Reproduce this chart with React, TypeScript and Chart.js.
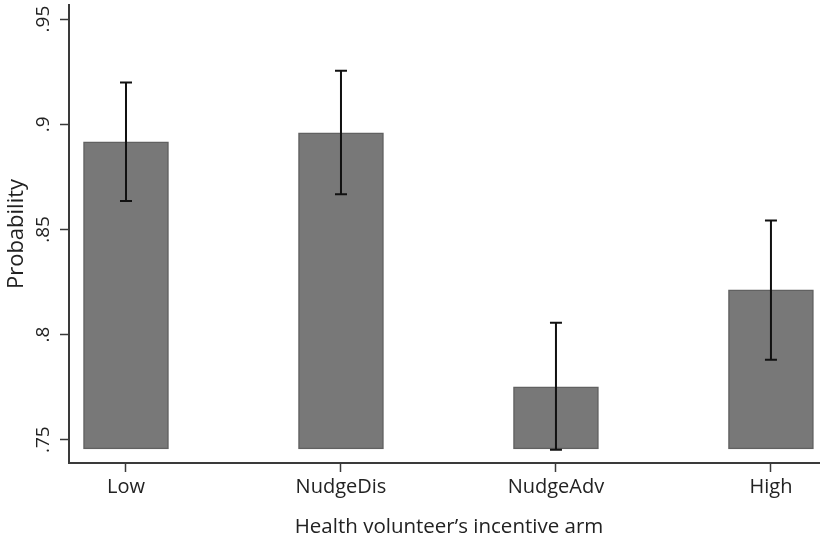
import React, { useEffect, useRef } from "react";
import { Chart, registerables } from "chart.js";

Chart.register(...registerables);

const categories = ["Low", "NudgeDis", "NudgeAdv", "High"];
const probability = [0.8916, 0.8959, 0.7751, 0.8213];
const ciLow = [0.8635, 0.8667, 0.7452, 0.788];
const ciHigh = [0.9199, 0.9254, 0.8056, 0.8542];
const barBase = 0.7456;
const yTicks = [0.75, 0.8, 0.85, 0.9, 0.95];
const yTickLabels = [".75", ".8", ".85", ".9", ".95"];

const FONT = "'Open Sans', 'Noto Sans', sans-serif";

const errorBarPlugin = {
  id: "errorBars",
  afterDatasetsDraw(chart: any) {
    const meta = chart.getDatasetMeta(0);
    const y = chart.scales.y;
    const ctx = chart.ctx;
    ctx.save();
    ctx.strokeStyle = "#111111";
    ctx.lineWidth = 2;
    meta.data.forEach((bar: any, i: number) => {
      const x = bar.x;
      const yl = y.getPixelForValue(ciLow[i]);
      const yh = y.getPixelForValue(ciHigh[i]);
      ctx.beginPath();
      ctx.moveTo(x, yl);
      ctx.lineTo(x, yh);
      ctx.moveTo(x - 6, yl);
      ctx.lineTo(x + 6, yl);
      ctx.moveTo(x - 6, yh);
      ctx.lineTo(x + 6, yh);
      ctx.stroke();
    });
    ctx.restore();
  },
};

const yLabelPlugin = {
  id: "yLabels",
  afterDraw(chart: any) {
    const y = chart.scales.y;
    const ctx = chart.ctx;
    ctx.save();
    ctx.fillStyle = "#222222";
    ctx.font = `19px ${FONT}`;
    ctx.textAlign = "center";
    ctx.textBaseline = "middle";
    yTicks.forEach((v, i) => {
      const py = y.getPixelForValue(v);
      ctx.save();
      ctx.translate(44, py);
      ctx.rotate(-Math.PI / 2);
      ctx.fillText(yTickLabels[i], 0, 0);
      ctx.restore();
    });
    ctx.restore();
  },
};

export default function App() {
  const ref = useRef<HTMLCanvasElement | null>(null);

  useEffect(() => {
    document.body.style.margin = "0";
    const canvas = ref.current!;
    const chart = new Chart(canvas, {
      type: "bar",
      data: {
        datasets: [
          {
            data: categories.map((_, i) => ({ x: i, y: [barBase, probability[i]] })) as any,
            backgroundColor: "#787878",
            borderColor: "#616161",
            borderWidth: 1.5,
            borderSkipped: false,
            barThickness: 85,
          },
        ],
      },
      options: {
        animation: false,
        responsive: false,
        layout: { padding: { top: 5, right: 1, left: 0, bottom: 0 } },
        plugins: { legend: { display: false }, tooltip: { enabled: false } },
        scales: {
          x: {
            type: "linear",
            min: -0.2651,
            max: 3.27,
            offset: false,
            afterBuildTicks: (s: any) => {
              s.ticks = categories.map((_, i) => ({ value: i }));
            },
            afterFit: (s: any) => {
              s.height = 77;
            },
            ticks: {
              callback: (v: any) => categories[v as number] ?? "",
              color: "#222222",
              font: { family: FONT, size: 20 },
              padding: 3,
              maxRotation: 0,
              autoSkip: false,
            },
            grid: {
              offset: false,
              drawOnChartArea: false,
              drawTicks: true,
              tickLength: 9,
              tickColor: "#3a3a3a",
              tickWidth: 1.5,
            },
            border: { display: true, color: "#3a3a3a", width: 2 },
            title: {
              display: true,
              text: "Health volunteer\u2019s incentive arm",
              color: "#222222",
              font: { family: FONT, size: 20.5 },
              padding: { top: 0, bottom: 1 },
            },
          },
          y: {
            type: "linear",
            min: 0.7389,
            max: 0.9567,
            afterBuildTicks: (s: any) => {
              s.ticks = yTicks.map((v) => ({ value: v }));
            },
            afterFit: (s: any) => {
              s.width = 69;
              s.paddingTop = 0;
              s.paddingBottom = 0;
            },
            ticks: {
              display: false,
            },
            grid: {
              drawOnChartArea: false,
              drawTicks: true,
              tickLength: 9,
              tickColor: "#3a3a3a",
              tickWidth: 1.5,
            },
            border: { display: true, color: "#3a3a3a", width: 2 },
            title: {
              display: true,
              text: "Probability",
              color: "#222222",
              font: { family: FONT, size: 22 },
              padding: { top: 4, bottom: 0 },
            },
          },
        },
      },
      plugins: [errorBarPlugin, yLabelPlugin],
    });
    return () => chart.destroy();
  }, []);

  return (
    <div style={{ position: "absolute", left: 0, top: 0, width: 820, height: 540, overflow: "hidden", background: "#fff" }}>
      <canvas ref={ref} width={830} height={540} style={{ width: 830, height: 540, display: "block" }} />
    </div>
  );
}
